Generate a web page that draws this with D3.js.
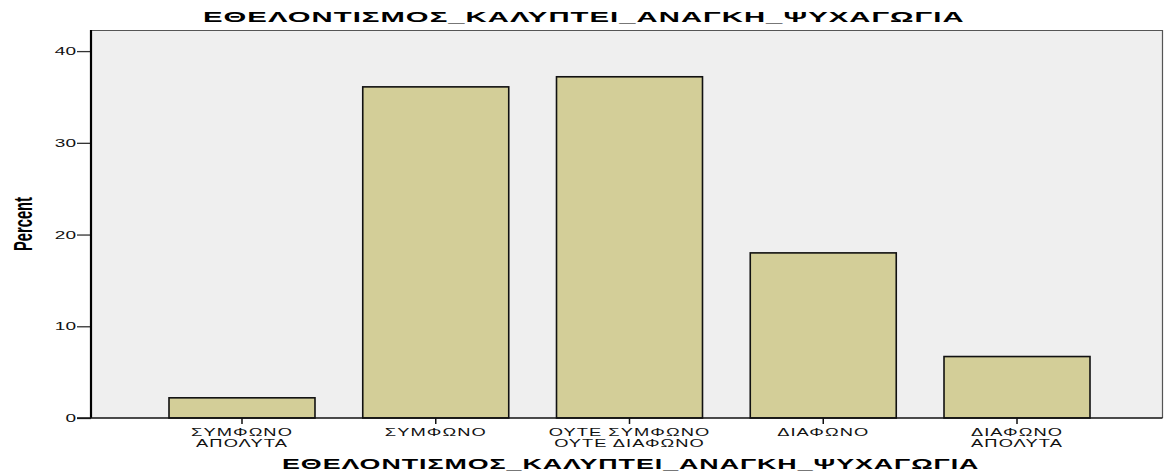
<!DOCTYPE html>
<html>
<head>
<meta charset="utf-8">
<script src="https://cdn.jsdelivr.net/npm/d3@7"></script>
<style>
  html, body { margin: 0; padding: 0; background: #ffffff; }
  svg { display: block; }
  text { font-family: "Liberation Sans", Arial, sans-serif; }
</style>
</head>
<body>
<svg id="chart" width="1168" height="475"></svg>
<script>
const chartTitle = "ΕΘΕΛΟΝΤΙΣΜΟΣ_ΚΑΛΥΠΤΕΙ_ΑΝΑΓΚΗ_ΨΥΧΑΓΩΓΙΑ";
const xTitle = "ΕΘΕΛΟΝΤΙΣΜΟΣ_ΚΑΛΥΠΤΕΙ_ΑΝΑΓΚΗ_ΨΥΧΑΓΩΓΙΑ";
const yTitle = "Percent";
const categories = ["ΣΥΜΦΩΝΟ ΑΠΟΛΥΤΑ", "ΣΥΜΦΩΝΟ", "ΟΥΤΕ ΣΥΜΦΩΝΟ ΟΥΤΕ ΔΙΑΦΩΝΟ", "ΔΙΑΦΩΝΟ", "ΔΙΑΦΩΝΟ ΑΠΟΛΥΤΑ"];
const categoryLines = [["ΣΥΜΦΩΝΟ", "ΑΠΟΛΥΤΑ"], ["ΣΥΜΦΩΝΟ"], ["ΟΥΤΕ ΣΥΜΦΩΝΟ", "ΟΥΤΕ ΔΙΑΦΩΝΟ"], ["ΔΙΑΦΩΝΟ"], ["ΔΙΑΦΩΝΟ", "ΑΠΟΛΥΤΑ"]];
const percentValues = [2.2, 36.1, 37.2, 18.0, 6.7];
const yTicks = [0, 10, 20, 30, 40];
const yMax = 42.3;

const svg = d3.select("#chart");
const plot = { left: 91, right: 1162, top: 30, bottom: 418 };

const x = d3.scaleBand().domain(categories).range([169, 1090]).paddingInner(0.2465).paddingOuter(0);
const y = d3.scaleLinear().domain([0, yMax]).range([plot.bottom, plot.top]);

// plot background
svg.append("rect")
  .attr("x", plot.left).attr("y", plot.top)
  .attr("width", plot.right - plot.left).attr("height", plot.bottom - plot.top)
  .attr("fill", "#efefef");

// top and right border
svg.append("path")
  .attr("d", `M${plot.left},${plot.top + 0.5}H${plot.right + 0.5}V${plot.bottom}`)
  .attr("fill", "none").attr("stroke", "#555").attr("stroke-width", 1.2);

// bars
svg.append("g").selectAll("rect")
  .data(percentValues)
  .join("rect")
  .attr("x", (d, i) => x(categories[i]))
  .attr("y", d => y(d))
  .attr("width", x.bandwidth())
  .attr("height", d => y(0) - y(d))
  .attr("fill", "#d3ce98")
  .attr("stroke", "#111")
  .attr("stroke-width", 1.6);

// y axis
const tickStretch = 1.85;
const yAxis = svg.append("g")
  .attr("transform", `translate(${plot.left},0)`)
  .call(d3.axisLeft(y).tickValues(yTicks).tickSize(14).tickPadding(1).tickFormat(d3.format("d")));
yAxis.select(".domain").remove();
yAxis.selectAll(".tick line").attr("stroke", "#333").attr("stroke-width", 1.3);
yAxis.selectAll(".tick text")
  .attr("font-size", "10.3px").attr("fill", "#111")
  .attr("x", -15 / tickStretch)
  .attr("dy", "0.36em")
  .attr("transform", `scale(${tickStretch},1)`);

// left axis line
svg.append("line")
  .attr("x1", plot.left).attr("x2", plot.left)
  .attr("y1", plot.top).attr("y2", plot.bottom)
  .attr("stroke", "#000").attr("stroke-width", 2.2);

// x axis
const xAxis = svg.append("g")
  .attr("transform", `translate(0,${plot.bottom})`)
  .call(d3.axisBottom(x).tickSize(6).tickFormat(""));
xAxis.select(".domain").remove();
xAxis.selectAll(".tick line").attr("stroke", "#111").attr("stroke-width", 1.5);

// bottom axis line
svg.append("line")
  .attr("x1", plot.left - 14).attr("x2", plot.right + 0.5)
  .attr("y1", plot.bottom).attr("y2", plot.bottom)
  .attr("stroke", "#111").attr("stroke-width", 1.5);

// category labels (horizontally stretched like the original rendering)
const catSize = 10.5;
const catGroup = svg.append("g");
const probe = catGroup.append("text").attr("font-size", catSize + "px").attr("letter-spacing", "0.6px").text(categoryLines[1][0]);
const catStretch = 102 / probe.node().getComputedTextLength();
probe.remove();
categoryLines.forEach((lines, i) => {
  const cx = x(categories[i]) + x.bandwidth() / 2;
  lines.forEach((line, j) => {
    catGroup.append("text")
      .attr("text-anchor", "middle")
      .attr("font-size", catSize + "px")
      .attr("letter-spacing", "0.6px")
      .attr("fill", "#111")
      .attr("transform", `translate(${cx},${435.5 + j * 11.8}) scale(${catStretch},1)`)
      .text(line);
  });
});

// stretched title helper
function stretchedText(str, x0, y0, width, size) {
  const t = svg.append("text")
    .attr("font-size", size + "px").attr("font-weight", "bold")
    .attr("letter-spacing", "0.5px")
    .attr("fill", "#000")
    .text(str);
  const w = t.node().getComputedTextLength();
  t.attr("transform", `translate(${x0},${y0}) scale(${width / w},1)`);
  return t;
}
stretchedText(chartTitle, 203, 22, 762, 14);
stretchedText(xTitle, 282, 468.5, 698, 14);

// y title (condensed, rotated)
const yt = svg.append("text")
  .attr("text-anchor", "middle")
  .attr("font-size", "26px").attr("font-weight", "bold")
  .attr("font-family", "'Liberation Sans Narrow', 'Arial Narrow', 'Liberation Sans', sans-serif")
  .attr("fill", "#000")
  .text(yTitle);
const ytw = yt.node().getComputedTextLength();
yt.attr("transform", `translate(32,224) rotate(-90) scale(${54 / ytw},1)`);
</script>
</body>
</html>
